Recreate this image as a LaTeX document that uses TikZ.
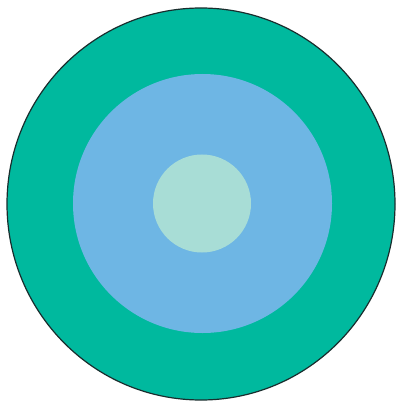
\documentclass[tikz,border=0pt]{standalone}
\begin{document}
\begin{tikzpicture}[x=1pt,y=-1pt,
  ring/.style={draw=none}]
\definecolor{outerc}{RGB}{0,185,158}
\definecolor{midc}{RGB}{110,182,228}
\definecolor{innerc}{RGB}{168,221,214}
\definecolor{edgec}{RGB}{25,45,45}
\useasboundingbox (0,0) rectangle (397,403);
\fill[white] (0,0) rectangle (397,403);
\draw[fill=outerc,draw=edgec,line width=1.2pt] (201,204) ellipse [x radius=194pt, y radius=196pt];
\node[ring,circle,fill=midc,minimum size=259pt,inner sep=0pt] (mid) at (202.5,203.5) {};
\node[ring,circle,fill=innerc,minimum size=98pt,inner sep=0pt] (inner) at (202,203.5) {};
\end{tikzpicture}
\end{document}
